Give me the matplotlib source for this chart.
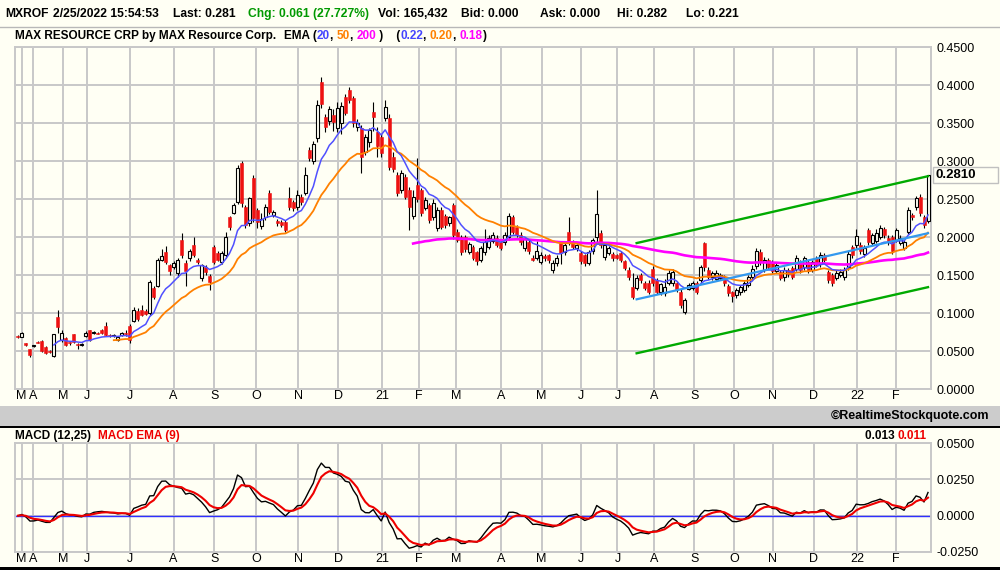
import numpy as np
import pandas as pd
import matplotlib
matplotlib.use("Agg")
import matplotlib.pyplot as plt
from matplotlib.patches import Rectangle
from matplotlib.lines import Line2D

plt.rcParams['font.family'] = ['Liberation Sans', 'DejaVu Sans']

BG = '#fffff4'
GRID = '#c8c8c8'
W, H = 1000, 570

# MXROF, one bar ~ two sessions, prices in thousandths of a dollar
opens = [70, 68, 60, 53, 56, 62, 63, 55, 50, 43,
         95, 64, 67, 61, 72, 59, 58, 70, 77, 74,
         74, 78, 83, 71, 70, 65, 71, 74, 83, 90,
         103, 104, 103, 100, 133, 136, 170, 180, 163, 160,
         152, 196, 166, 172, 189, 170, 146, 161, 149, 187,
         179, 167, 176, 226, 232, 246, 297, 240, 218, 278,
         235, 214, 226, 258, 229, 221, 220, 220, 251, 246,
         240, 253, 258, 314, 300, 330, 404, 358, 352, 360,
         343, 350, 384, 393, 383, 345, 343, 312, 325, 364,
         338, 332, 357, 357, 305, 282, 262, 279, 262, 228,
         268, 262, 238, 242, 226, 212, 236, 228, 218, 242,
         207, 200, 200, 180, 187, 180, 170, 180, 187, 195,
         199, 193, 193, 200, 226, 213, 203, 185, 193, 173,
         172, 167, 175, 176, 157, 166, 192, 180, 207, 193,
         185, 179, 176, 166, 181, 200, 205, 174, 179, 177,
         176, 179, 168, 157, 134, 133, 150, 139, 140, 158,
         143, 128, 126, 140, 139, 139, 128, 101, 132, 133,
         139, 143, 192, 157, 147, 145, 146, 147, 135, 127,
         124, 127, 130, 137, 147, 162, 180, 157, 170, 167,
         155, 154, 147, 156, 159, 158, 166, 160, 167, 157,
         172, 164, 176, 154, 150, 146, 150, 147, 160, 187,
         190, 190, 177, 209, 192, 195, 200, 210, 199, 200,
         196, 192, 186, 207, 229, 239, 253, 226, 221]
closes = [68, 74, 58, 45, 57, 60, 50, 47, 49, 72,
          82, 74, 58, 60, 62, 58, 59, 74, 65, 75,
          73, 74, 71, 70, 71, 68, 74, 72, 64, 104,
          92, 98, 99, 141, 121, 170, 175, 167, 155, 166,
          170, 176, 155, 182, 176, 167, 163, 154, 141, 167,
          170, 179, 200, 213, 242, 291, 245, 216, 251, 225,
          220, 224, 240, 233, 233, 218, 216, 209, 240, 238,
          255, 246, 282, 304, 322, 374, 375, 345, 368, 351,
          370, 372, 363, 380, 350, 350, 305, 332, 341, 358,
          320, 311, 371, 292, 290, 258, 284, 253, 240, 252,
          250, 232, 249, 222, 245, 236, 213, 216, 226, 202,
          196, 180, 184, 191, 173, 168, 185, 194, 199, 203,
          190, 186, 203, 228, 207, 203, 193, 197, 181, 170,
          182, 176, 172, 170, 166, 172, 179, 190, 193, 187,
          189, 168, 166, 180, 196, 230, 190, 189, 185, 172,
          173, 170, 159, 147, 121, 146, 143, 133, 128, 139,
          128, 138, 134, 153, 154, 130, 110, 117, 137, 139,
          128, 160, 161, 148, 153, 152, 150, 139, 126, 122,
          130, 134, 139, 147, 158, 182, 167, 170, 161, 155,
          163, 146, 157, 151, 148, 172, 157, 172, 155, 167,
          163, 176, 170, 144, 140, 153, 154, 157, 178, 176,
          201, 181, 186, 194, 202, 205, 212, 202, 193, 181,
          209, 199, 193, 236, 226, 251, 232, 216, 281]
highs = [71, 75, 60, 53, 58, 63, 65, 56, 51, 73,
         104, 78, 68, 62, 73, 60, 60, 76, 78, 76,
         75, 79, 88, 72, 72, 69, 75, 78, 85, 108,
         106, 110, 105, 143, 135, 172, 184, 188, 165, 168,
         172, 205, 170, 184, 200, 172, 165, 163, 151, 190,
         182, 181, 207, 228, 245, 295, 300, 242, 253, 282,
         238, 232, 244, 262, 236, 224, 222, 223, 266, 249,
         262, 256, 292, 318, 326, 380, 411, 362, 372, 368,
         378, 378, 388, 398, 386, 355, 348, 336, 344, 378,
         345, 336, 380, 362, 312, 286, 288, 283, 266, 262,
         304, 265, 252, 245, 250, 240, 240, 230, 228, 245,
         210, 203, 202, 194, 190, 182, 188, 210, 203, 207,
         202, 195, 206, 232, 229, 216, 206, 200, 196, 176,
         195, 180, 177, 178, 170, 176, 195, 193, 226, 196,
         193, 182, 178, 183, 199, 262, 209, 192, 188, 180,
         178, 181, 170, 160, 152, 150, 153, 142, 143, 162,
         146, 140, 145, 156, 158, 142, 132, 120, 140, 142,
         142, 163, 194, 160, 155, 156, 153, 150, 138, 129,
         133, 137, 142, 150, 163, 186, 184, 174, 173, 170,
         166, 157, 160, 159, 162, 176, 170, 175, 170, 170,
         175, 180, 179, 157, 153, 156, 158, 160, 182, 190,
         211, 193, 189, 212, 205, 210, 216, 213, 202, 203,
         212, 203, 196, 240, 232, 254, 256, 229, 282]
lows = [67, 68, 57, 42, 55, 60, 49, 46, 48, 42,
        74, 62, 56, 58, 61, 52, 57, 69, 63, 73,
        72, 73, 70, 69, 69, 63, 70, 70, 60, 88,
        90, 96, 97, 98, 118, 134, 168, 165, 150, 158,
        148, 172, 135, 168, 174, 164, 142, 150, 130, 165,
        168, 165, 172, 209, 230, 244, 240, 212, 215, 220,
        212, 210, 222, 230, 226, 215, 213, 206, 236, 234,
        236, 242, 255, 300, 296, 325, 370, 338, 348, 340,
        338, 336, 360, 376, 345, 340, 284, 308, 318, 340,
        305, 305, 352, 288, 285, 254, 258, 250, 209, 224,
        246, 228, 235, 218, 222, 208, 210, 212, 214, 198,
        193, 176, 180, 177, 170, 163, 167, 176, 184, 192,
        187, 183, 190, 196, 204, 200, 190, 182, 178, 168,
        170, 164, 169, 166, 152, 162, 165, 176, 190, 184,
        182, 165, 162, 163, 178, 193, 186, 170, 176, 169,
        171, 167, 156, 143, 118, 130, 140, 130, 125, 136,
        125, 124, 122, 137, 135, 128, 106, 99, 130, 130,
        125, 140, 155, 145, 144, 142, 143, 136, 122, 114,
        120, 124, 127, 134, 145, 158, 163, 154, 158, 152,
        152, 143, 142, 148, 145, 155, 152, 157, 152, 154,
        160, 161, 167, 140, 136, 143, 147, 144, 156, 173,
        186, 178, 174, 190, 189, 192, 197, 199, 190, 177,
        193, 189, 183, 204, 223, 236, 228, 212, 219]

month_labels = ['M', 'A', 'M', 'J', 'J', 'A', 'S', 'O', 'N', 'D', '21', 'F',
                'M', 'A', 'M', 'J', 'J', 'A', 'S', 'O', 'N', 'D', '22', 'F']
# first bar index of each month
month_pos = [0.9, 3.8, 11.2, 17.4, 28.1, 39.0, 49.2, 59.6, 70.2, 80.3, 91.2, 100.4,
             109.8, 121.0, 131.2, 141.0, 150.2, 159.4, 169.4, 179.5, 189.1, 199.4,
             210.2, 219.9]

# regression channel drawn on the chart
channel_bars = [155, 228]
channel_upper = [0.192, 0.280]
channel_mid = [0.118, 0.205]
channel_lower = [0.047, 0.134]

o = np.array(opens) / 1000
c = np.array(closes) / 1000
hi = np.array(highs) / 1000
lo = np.array(lows) / 1000
x = np.arange(len(c))


def ema(values, n):
    # simple-average seed, then the usual recursion
    out = np.full(len(values), np.nan)
    out[n - 1] = values[:n].mean()
    a = 2 / (n + 1)
    for i in range(n, len(values)):
        out[i] = a * values[i] + (1 - a) * out[i - 1]
    return out


ema20 = ema(c, 10)
ema50 = ema(c, 25)
ema200 = ema(c, 100)

s = pd.Series(c)
macd = s.ewm(span=6, adjust=False).mean() - s.ewm(span=12.5, adjust=False).mean()
signal = macd.ewm(span=4.5, adjust=False).mean()

fig = plt.figure(figsize=(W / 100, H / 100), dpi=100, facecolor=BG)

# frames and strips
fig.add_artist(Line2D([0, 1], [1 - 27 / H, 1 - 27 / H], color='#b8b8b8', lw=1))
fig.add_artist(Rectangle((0, 1 - 426 / H), 1, 20 / H, facecolor='#cccccc', edgecolor='none'))
fig.add_artist(Rectangle((0, 1 - 428 / H), 1, 2.5 / H, facecolor='black', edgecolor='none'))
fig.add_artist(Rectangle((0, 0), 1, 3 / H, facecolor='black', edgecolor='none'))

ax = fig.add_axes([15 / W, 1 - 389 / H, 916 / W, 342 / H])
ax2 = fig.add_axes([15 / W, 1 - 552 / H, 916 / W, 109 / H])

for a in (ax, ax2):
    a.set_facecolor(BG)
    a.set_xlim(-0.75, len(c) - 0.25)
    a.set_xticks(month_pos)
    a.set_xticklabels(month_labels, fontsize=8.5)
    a.yaxis.tick_right()
    a.tick_params(length=0, pad=1, labelsize=9)
    a.tick_params(axis='y', pad=4)
    a.grid(True, color=GRID, lw=1.4)
    a.set_axisbelow(True)
    for sp in a.spines.values():
        sp.set_color(GRID)
        sp.set_linewidth(1.4)

# candles
up = c >= o
body_lo = np.minimum(o, c)
body_h = np.maximum(np.abs(c - o), 0.0013)
ax.vlines(x, lo, hi, color='black', lw=0.8, zorder=2)
ax.bar(x[up], body_h[up], bottom=body_lo[up], width=0.75, facecolor=BG,
       edgecolor='black', lw=0.8, zorder=3)
ax.bar(x[~up], body_h[~up], bottom=body_lo[~up], width=0.75, facecolor='#ee1111',
       edgecolor='#ee1111', lw=0.4, zorder=3)

ax.plot(x, ema200, color='#ff00ff', lw=1.9, zorder=4)
ax.plot(x, ema50, color='#ff8000', lw=1.3, zorder=4)
ax.plot(x, ema20, color='#5050ff', lw=1.1, zorder=4)

ax.plot(channel_bars, channel_upper, color='#00aa00', lw=1.7, zorder=5)
ax.plot(channel_bars, channel_lower, color='#00aa00', lw=1.7, zorder=5)
ax.plot(channel_bars, channel_mid, color='#3399ee', lw=1.6, zorder=5)

ax.set_ylim(0, 0.45)
yt = np.arange(0, 0.451, 0.05)
ax.set_yticks(yt)
ax.set_yticklabels(['%.4f' % v for v in yt])

# MACD panel
ax2.axhline(0, color='#3030ff', lw=1, zorder=2)
ax2.plot(x, macd, color='black', lw=1.0, zorder=3)
ax2.plot(x, signal, color='#ee0000', lw=1.5, zorder=4)
ax2.set_ylim(-0.025, 0.05)
mt = [-0.025, 0.0, 0.025, 0.05]
ax2.set_yticks(mt)
ax2.set_yticklabels(['%.4f' % v for v in mt])

# last price box at the right edge
y_last = ax.transData.transform((0, c[-1]))[1]
fig.add_artist(Rectangle((933, y_last - 8), 65, 16, transform=None,
                         facecolor=BG, edgecolor='#c0c0c0', lw=1))
fig.text(936 / W, y_last / H, '%.4f' % c[-1], fontsize=9.5, fontweight='bold',
         va='center', ha='left')

# texts
renderer = fig.canvas.get_renderer()


def chain(x_px, y_px, parts, size=8.5):
    for txt, col in parts:
        t = fig.text(x_px / W, 1 - y_px / H, txt, color=col, fontsize=size,
                     fontweight='bold', va='center', ha='left')
        x_px += t.get_window_extent(renderer).width


header = [(5, 'MXROF', 'black'), (53, '2/25/2022 15:54:53', 'black'),
          (173, 'Last: 0.281', 'black'), (248, 'Chg: 0.061 (27.727%)', '#009900'),
          (378, 'Vol: 165,432', 'black'), (461, 'Bid: 0.000', 'black'),
          (540, 'Ask: 0.000', 'black'), (617, 'Hi: 0.282', 'black'),
          (686, 'Lo: 0.221', 'black')]
for hx, txt, col in header:
    fig.text(hx / W, 1 - 14 / H, txt, color=col, fontsize=8.7, fontweight='bold',
             va='center', ha='left')

chain(15, 36, [('MAX RESOURCE CRP by MAX Resource Corp.', 'black')])
chain(284, 36, [('EMA (', 'black'), ('20', '#4444ff'), (', ', 'black'),
                ('50', '#ff8000'), (', ', 'black'), ('200', '#ff00ff'), (' )    (', 'black'),
                ('0.22', '#4444ff'), (', ', 'black'), ('0.20', '#ff8000'),
                (', ', 'black'), ('0.18', '#ff00ff'), (')', 'black')])

chain(15, 436, [('MACD (12,25)  ', 'black'), ('MACD EMA (9)', '#ee0000')])
chain(865, 436, [('0.013 ', 'black'), ('0.011', '#ee0000')])

fig.text(989 / W, 1 - 416 / H, '\u00a9RealtimeStockquote.com', fontsize=9,
         fontweight='bold', ha='right', va='center')

fig.savefig('out.png', dpi=100, facecolor=BG)
